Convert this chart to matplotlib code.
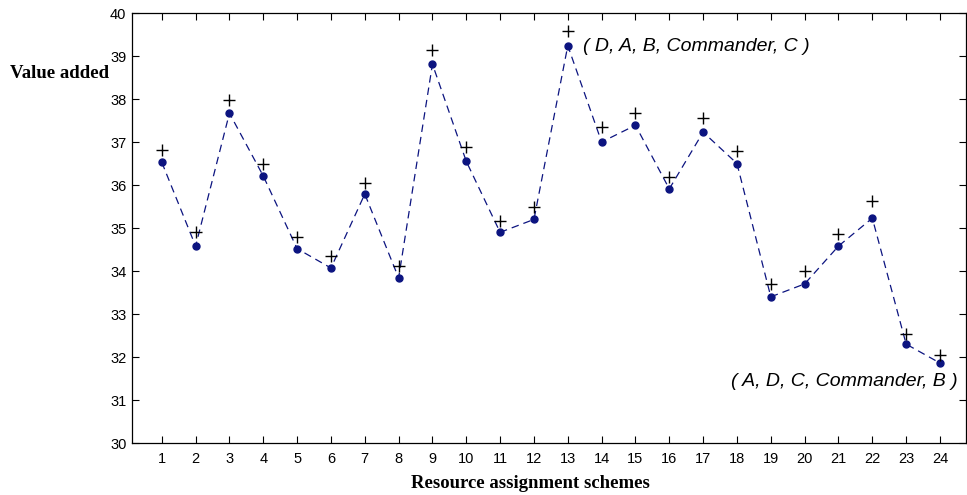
import matplotlib
matplotlib.use('Agg')
import matplotlib.pyplot as plt

schemes = list(range(1, 25))
value_dots = [36.53, 34.58, 37.67, 36.21, 34.52, 34.07, 35.79, 33.84,
              38.81, 36.55, 34.90, 35.20, 39.24, 37.00, 37.39, 35.91,
              37.23, 36.50, 33.40, 33.70, 34.58, 35.23, 32.30, 31.86]
value_plus = [36.81, 34.90, 37.97, 36.49, 34.78, 34.35, 36.05, 34.12,
              39.14, 36.88, 35.17, 35.49, 39.59, 37.34, 37.67, 36.19,
              37.56, 36.78, 33.70, 34.01, 34.86, 35.64, 32.53, 32.05]
y_ticks = list(range(30, 41))

best_label = '( D, A, B, Commander, C )'
worst_label = '( A, D, C, Commander, B )'

fig = plt.figure(figsize=(9.67, 4.95), dpi=100)
ax = fig.add_axes([0.1365, 0.105, 0.8625, 0.8687])

navy = '#0c1480'
ax.plot(schemes, value_dots, linestyle=(0, (6, 4)), color=navy,
        linewidth=0.9, marker='o', markersize=5,
        markerfacecolor=navy, markeredgecolor=navy)
ax.plot(schemes, value_plus, linestyle='none', marker='+',
        markersize=9, markeredgewidth=1.0, color='black')

ax.text(13.45, 39.21, best_label, fontsize=14, fontstyle='italic',
        family='Liberation Sans', ha='left', va='center')
ax.text(24.52, 31.44, worst_label, fontsize=14, fontstyle='italic',
        family='Liberation Sans', ha='right', va='center')

ax.set_xlim(0.12, 24.77)
ax.set_ylim(30, 40)
ax.set_xticks(schemes)
ax.set_yticks(y_ticks)
ax.tick_params(direction='in', length=5, width=0.8, top=True, right=True,
               labelsize=10.5)
ax.tick_params(axis='x', pad=6.5)
ax.tick_params(axis='y', pad=4)
for lab in ax.get_xticklabels() + ax.get_yticklabels():
    lab.set_family('Liberation Sans')
for sp in ax.spines.values():
    sp.set_linewidth(0.9)

fig.text(109 / 967, 1 - 73 / 495, 'Value added', ha='right', va='center',
         family='Liberation Serif', fontweight='bold', fontsize=13.5)
fig.text(530 / 967, 1 - 483 / 495, 'Resource assignment schemes',
         ha='center', va='center', family='Liberation Serif',
         fontweight='bold', fontsize=13.5)

fig.savefig('out.png', dpi=100)
plt.close(fig)
